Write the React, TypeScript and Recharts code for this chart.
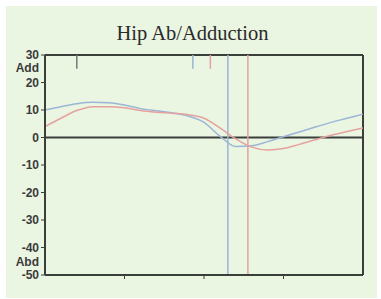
import { LineChart, Line, XAxis, YAxis, ReferenceLine } from 'recharts';

// % of gait cycle
const positions = [0, 5, 10, 15, 20, 25, 30, 35, 40, 45, 50, 55, 60, 65, 70, 75, 80, 85, 90, 95, 100];
const blueValues = [10, 11.2, 12.3, 12.8, 12.6, 11.8, 10.5, 9.7, 9, 7.8, 5.5, 0.5, -3.3, -3, -1.5, 0.3, 2, 3.8, 5.5, 7, 8.5];
const redValues = [4, 7, 9.8, 11.2, 11.2, 10.8, 9.8, 9.2, 8.8, 8.3, 7, 3.5, -0.5, -3.5, -4.5, -4, -2.5, -0.8, 0.8, 2.2, 3.5];
const yTicks = [30, 20, 10, 0, -10, -20, -30, -40, -50];
const xTicks = [25, 50, 75];

// toe-off / event markers
const blueToeOff = 57.5;
const redToeOff = 63.8;
const grayMark = 10;
const blueMark = 46.5;
const redMark = 52;

const BLUE = '#9bb6d6';
const RED = '#e5a29e';
const AXIS = '#3a3f3a';

const data = positions.map((p, i) => ({ p, blue: blueValues[i], red: redValues[i] }));

const YTick = (props: any) => {
  const { x, y, payload } = props;
  const v = payload.value;
  const style = { fontFamily: 'Liberation Sans, Arial, sans-serif', fontSize: 12, fontWeight: 'bold' as const, fill: '#3b3b3b' };
  return (
    <g>
      <text x={x} y={y} dy={4} textAnchor="end" {...style}>{v}</text>
      {v === 30 && <text x={x} y={y} dy={17} textAnchor="end" {...style}>Add</text>}
      {v === -50 && <text x={x} y={y} dy={-9} textAnchor="end" {...style}>Abd</text>}
    </g>
  );
};

export default function App() {
  return (
    <div style={{ position: 'absolute', left: 0, top: 0, width: 381, height: 299, background: '#ffffff' }}>
      <div style={{ position: 'absolute', left: 6, top: 6, width: 371, height: 292, background: '#eaf5e2' }} />
      <div
        style={{
          position: 'absolute',
          left: 0,
          top: 22,
          width: 381,
          textAlign: 'center',
          fontFamily: 'Liberation Serif, Times New Roman, serif',
          fontSize: 20.5,
          color: '#2a2a2a',
          paddingLeft: 2,
        }}
      >
        Hip Ab/Adduction
      </div>
      <div style={{ position: 'absolute', left: 0, top: 0 }}>
        <LineChart width={381} height={299} data={data} margin={{ top: 55, right: 18, bottom: 14, left: 5 }}>
          <XAxis
            dataKey="p"
            type="number"
            domain={[0, 100]}
            ticks={xTicks}
            tickFormatter={() => ''}
            tickSize={4}
            height={10}
            axisLine={{ stroke: AXIS, strokeWidth: 2 }}
            tickLine={{ stroke: AXIS }}
          />
          <YAxis
            type="number"
            domain={[-50, 30]}
            ticks={yTicks}
            interval={0}
            width={40}
            tickSize={4}
            tick={<YTick />}
            axisLine={{ stroke: AXIS, strokeWidth: 2 }}
            tickLine={{ stroke: AXIS }}
          />
          <ReferenceLine y={30} stroke={AXIS} strokeWidth={2} />
          <ReferenceLine x={100} stroke={AXIS} strokeWidth={2} />
          <ReferenceLine y={0} stroke={AXIS} strokeWidth={2} />
          <ReferenceLine x={blueToeOff} stroke={BLUE} strokeWidth={1.5} />
          <ReferenceLine x={redToeOff} stroke={RED} strokeWidth={1.5} />
          <ReferenceLine segment={[{ x: grayMark, y: 30 }, { x: grayMark, y: 25 }]} stroke="#777" strokeWidth={1.5} />
          <ReferenceLine segment={[{ x: blueMark, y: 30 }, { x: blueMark, y: 25 }]} stroke={BLUE} strokeWidth={1.5} />
          <ReferenceLine segment={[{ x: redMark, y: 30 }, { x: redMark, y: 25 }]} stroke={RED} strokeWidth={1.5} />
          <Line type="monotone" dataKey="blue" stroke={BLUE} strokeWidth={1.5} dot={false} isAnimationActive={false} />
          <Line type="monotone" dataKey="red" stroke={RED} strokeWidth={1.5} dot={false} isAnimationActive={false} />
        </LineChart>
      </div>
    </div>
  );
}
